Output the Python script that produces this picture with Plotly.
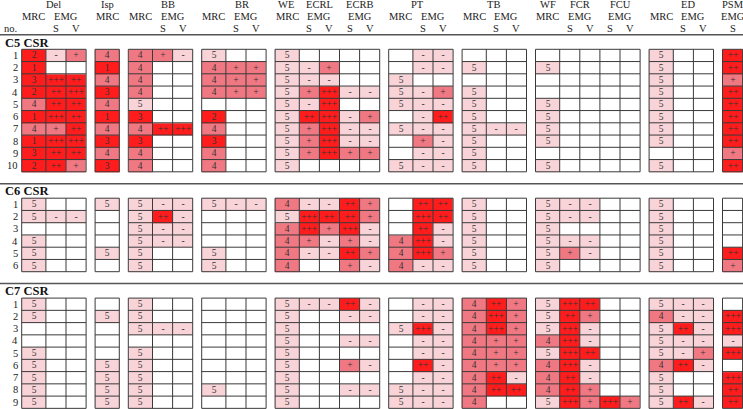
import plotly.graph_objects as go

# ---------------- data ----------------
columns = ["Del MRC", "Del S", "Del V", "Isp MRC", "BB MRC", "BB S", "BB V",
           "BR MRC", "BR S", "BR V", "WE MRC", "ECRL S", "ECRL V", "ECRB S", "ECRB V",
           "PT MRC", "PT S", "PT V", "TB MRC", "TB S", "TB V",
           "WF MRC", "FCR S", "FCR V", "FCU S", "FCU V", "ED MRC", "ED S", "ED V", "PSM S"]

section_names = ["C5 CSR", "C6 CSR", "C7 CSR"]

c5_rows = [
    ["2", "-", "+", "4", "4", "+", "-", "5", "", "", "5", "", "", "", "", "", "-", "-", "", "", "", "", "", "", "", "", "5", "", "", "++"],
    ["1", "", "", "1", "4", "", "", "4", "+", "+", "5", "-", "+", "", "", "", "-", "-", "5", "", "", "5", "", "", "", "", "5", "", "", "++"],
    ["3", "+++", "++", "4", "4", "", "", "4", "+", "+", "5", "-", "-", "", "", "5", "", "", "", "", "", "", "", "", "", "", "5", "", "", "+"],
    ["2", "++", "+++", "3", "4", "", "", "4", "+", "+", "5", "+", "+++", "-", "-", "5", "-", "+", "5", "", "", "", "", "", "", "", "5", "", "", "++"],
    ["4", "++", "++", "4", "5", "", "", "", "", "", "5", "-", "+++", "", "", "5", "-", "-", "5", "", "", "5", "", "", "", "", "5", "", "", "++"],
    ["1", "+++", "++", "1", "3", "", "", "2", "", "", "5", "++", "+++", "-", "+", "", "-", "++", "5", "", "", "5", "", "", "", "", "5", "", "", "++"],
    ["4", "+", "++", "4", "4", "++", "+++", "4", "", "", "5", "+", "+++", "-", "-", "5", "-", "-", "5", "-", "-", "5", "", "", "", "", "5", "", "", "++"],
    ["1", "+++", "+++", "3", "3", "", "", "3", "", "", "5", "+", "+++", "-", "-", "", "+", "-", "5", "", "", "5", "", "", "", "", "5", "", "", "++"],
    ["3", "++", "++", "4", "4", "", "", "4", "", "", "5", "+", "+++", "+", "+", "", "-", "-", "5", "", "", "", "", "", "", "", "", "", "", "+"],
    ["2", "++", "+", "3", "4", "", "", "4", "", "", "5", "", "", "", "", "5", "-", "-", "5", "", "", "5", "", "", "", "", "5", "", "", "++"],
]

c6_rows = [
    ["5", "", "", "5", "5", "-", "-", "5", "-", "-", "4", "-", "-", "++", "+", "", "++", "++", "5", "", "", "5", "-", "-", "", "", "5", "", "", ""],
    ["5", "-", "-", "", "5", "++", "-", "", "", "", "5", "+++", "++", "++", "+", "", "+++", "++", "5", "", "", "5", "-", "-", "", "", "5", "", "", ""],
    ["", "", "", "", "5", "-", "-", "", "", "", "4", "+++", "+", "+++", "-", "", "++", "-", "5", "", "", "5", "", "", "", "", "5", "", "", ""],
    ["5", "", "", "", "5", "-", "-", "", "", "", "4", "+", "-", "+", "-", "4", "+++", "-", "5", "", "", "5", "-", "-", "", "", "5", "", "", ""],
    ["5", "", "", "5", "5", "", "", "5", "", "", "4", "-", "-", "++", "+", "4", "+++", "+", "5", "", "", "5", "+", "-", "", "", "5", "", "", "++"],
    ["5", "", "", "", "5", "", "", "5", "", "", "4", "", "", "+", "-", "4", "-", "-", "5", "", "", "5", "", "", "", "", "5", "", "", "+"],
]

c7_rows = [
    ["5", "", "", "", "5", "", "", "", "", "", "5", "-", "-", "++", "-", "", "-", "-", "4", "++", "+", "5", "+++", "++", "", "", "5", "-", "-", ""],
    ["5", "", "", "5", "5", "", "", "", "", "", "5", "", "", "-", "-", "", "-", "-", "4", "+++", "+", "5", "++", "+", "", "", "4", "-", "-", "+++"],
    ["", "", "", "", "5", "-", "-", "", "", "", "5", "", "", "", "", "5", "+++", "-", "4", "+++", "+", "5", "+++", "-", "", "", "5", "++", "-", "+++"],
    ["", "", "", "", "", "", "", "", "", "", "5", "", "", "-", "-", "", "-", "-", "4", "+", "+", "4", "+++", "-", "", "", "5", "-", "-", "-"],
    ["5", "", "", "", "5", "", "", "", "", "", "5", "", "", "", "", "", "-", "-", "4", "+", "+", "5", "+++", "++", "", "", "5", "-", "+", "+++"],
    ["5", "", "", "5", "5", "", "", "", "", "", "5", "", "", "+", "-", "", "++", "-", "4", "+", "+", "4", "+++", "-", "", "", "4", "++", "-", ""],
    ["5", "", "", "5", "5", "", "", "", "", "", "5", "", "", "", "", "", "-", "-", "4", "++", "-", "4", "++", "-", "", "", "5", "", "", "+++"],
    ["5", "", "", "5", "5", "", "", "5", "", "", "5", "", "", "-", "-", "5", "-", "-", "4", "++", "++", "4", "++", "+", "", "", "5", "", "", "++"],
    ["5", "", "", "5", "5", "", "", "", "", "", "5", "", "", "", "", "5", "-", "-", "4", "", "", "5", "+++", "+", "+++", "+", "5", "++", "-", "++"],
]

sections = [c5_rows, c6_rows, c7_rows]

# ---------------- layout constants ----------------
W, H = 743, 409
X0, MRC_W, EMG_W, GAP = 21.7, 24.2, 20.1, 9.0
ROW_H, SEC_GAP, FIRST_Y = 12.25, 26.4, 49.3
block_sizes = [3, 1, 3, 3, 5, 3, 3, 5, 3, 1]
FONT = "Liberation Serif"
WHITE, LIGHT, MED, DARK = "#ffffff", "#f8d3d8", "#f07882", "#ff1c1c"
LINE_C = "#3a3a3a"
TXT_C = "#333333"

# column geometry
col_x0, col_x1, blocks = [], [], []
x = X0
idx = 0
for n in block_sizes:
    bstart = idx
    bx0 = x
    for _ in range(n):
        w = MRC_W if columns[idx].endswith("MRC") else EMG_W
        col_x0.append(x)
        x += w
        col_x1.append(x)
        idx += 1
    blocks.append((bstart, idx, bx0, x))
    x += GAP
col_c = [(a + b) / 2 for a, b in zip(col_x0, col_x1)]


def level(v, col):
    if v == "":
        return 0
    if col.endswith("MRC"):
        n = int(v)
        return 3 if n <= 3 else (2 if n == 4 else 1)
    return {"+++": 3, "++": 3, "+": 2, "-": 1}[v]


# heatmap x edges including gap columns (null)
x_edges = [col_x0[0]]
col_map = []
for bi, (s, e, bx0, bx1) in enumerate(blocks):
    for c in range(s, e):
        x_edges.append(col_x1[c])
        col_map.append(c)
    if bi < len(blocks) - 1:
        x_edges.append(blocks[bi + 1][2])
        col_map.append(None)

cs = [[0, WHITE], [1 / 6, WHITE], [1 / 6, LIGHT], [0.5, LIGHT],
      [0.5, MED], [5 / 6, MED], [5 / 6, DARK], [1, DARK]]

fig = go.Figure()
annotations = []
shapes = []

y_start = FIRST_Y
for si, rows in enumerate(sections):
    nrows = len(rows)
    y_edges = [y_start + i * ROW_H for i in range(nrows + 1)]
    z, t = [], []
    for r in rows:
        zr, tr = [], []
        for c in col_map:
            if c is None:
                zr.append(None)
                tr.append("")
            else:
                zr.append(level(r[c], columns[c]))
                tr.append(r[c])
        z.append(zr)
        t.append(tr)
    fig.add_trace(go.Heatmap(
        x=x_edges, y=y_edges, z=z, text=t, texttemplate="%{text}",
        textfont=dict(family=FONT, size=9.5, color=TXT_C),
        colorscale=cs, zmin=0, zmax=3, showscale=False, hoverinfo="skip", xgap=0, ygap=0))

    # grid lines
    lx, ly = [], []
    for (s, e, bx0, bx1) in blocks:
        for ye in y_edges:
            lx += [bx0, bx1, None]
            ly += [ye, ye, None]
        xs = [col_x0[s]] + [col_x1[c] for c in range(s, e)]
        for xe in xs:
            lx += [xe, xe, None]
            ly += [y_edges[0], y_edges[-1], None]
    fig.add_trace(go.Scatter(x=lx, y=ly, mode="lines", line=dict(color=LINE_C, width=1),
                             hoverinfo="skip", showlegend=False))

    # row numbers
    for i in range(nrows):
        annotations.append(dict(x=19.5, y=y_start + (i + 0.5) * ROW_H, text=str(i + 1),
                                xanchor="right", yanchor="middle", showarrow=False,
                                font=dict(family=FONT, size=10.5, color="#222")))
    # section title
    annotations.append(dict(x=3, y=y_start - 6.8, text="<b>%s</b>" % section_names[si],
                            xanchor="left", yanchor="middle", showarrow=False,
                            font=dict(family=FONT, size=12.5, color="#111")))
    # separator line
    shapes.append(dict(type="line", xref="paper", x0=0, x1=1, yref="y",
                       y0=y_start - 14.5, y1=y_start - 14.5, line=dict(color="#555", width=1.5)))
    y_start = y_edges[-1] + SEC_GAP

# ---------------- header ----------------
HDR = dict(family=FONT, size=10.5, color="#222")


def hdr(xv, yv, txt):
    annotations.append(dict(x=xv, y=yv, text=txt, xanchor="center", yanchor="middle",
                            showarrow=False, font=HDR))


Y1, Y2, Y3 = 4.2, 16.0, 28.2
bx = {b: blocks[i] for i, b in enumerate(["Del", "Isp", "BB", "BR", "WE", "PT", "TB", "WF", "ED", "PSM"])}
grp_off = {"Del": 32, "Isp": 12, "BB": 40, "BR": 40, "PT": 29, "TB": 31, "ED": 39, "PSM": 10}
for g, off in grp_off.items():
    hdr(bx[g][2] + off, Y1, g)
hdr(col_c[columns.index("WE MRC")] - 1, Y1, "WE")
hdr(col_c[columns.index("WF MRC")], Y1, "WF")
for g in ["ECRL", "ECRB", "FCR", "FCU"]:
    i = columns.index(g + " S")
    hdr(col_x1[i], Y1, g)

for i, c in enumerate(columns):
    g, k = c.split()
    if k == "MRC":
        hdr(col_c[i], Y2, "MRC")
    elif k == "S":
        if c == "PSM S":
            hdr(col_c[i], Y2, "EMG")
        else:
            hdr(col_x1[i], Y2, "EMG")
        hdr(col_c[i], Y3, "S")
    else:
        hdr(col_c[i], Y3, "V")
annotations.append(dict(x=2, y=Y3, text="no.", xanchor="left", yanchor="middle",
                        showarrow=False, font=HDR))

fig.update_layout(
    width=W, height=H, margin=dict(l=0, r=0, t=0, b=0),
    plot_bgcolor="white", paper_bgcolor="white", showlegend=False,
    xaxis=dict(range=[0, W], visible=False, fixedrange=True),
    yaxis=dict(range=[H, 0], visible=False, fixedrange=True),
    annotations=annotations, shapes=shapes,
)
fig.write_html("out.html", config={"displayModeBar": False, "staticPlot": True},
               post_script="document.body.style.margin='0px';document.body.style.overflow='hidden';")
